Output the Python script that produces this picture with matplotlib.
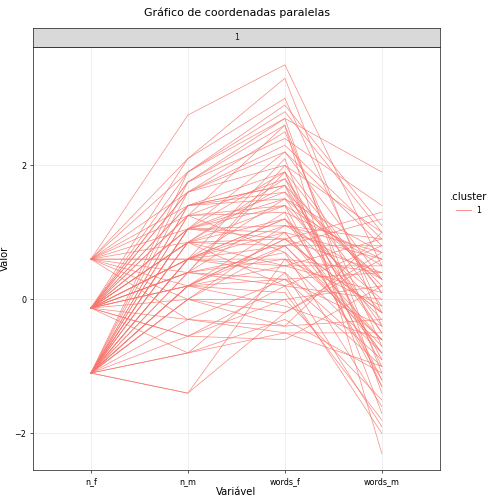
import matplotlib.pyplot as plt

variables = ["n_f", "n_m", "words_f", "words_m"]

n_f = [0.6, 0.6, 0.6, 0.6, 0.6, 0.6, 0.6, 0.6, 0.6, 0.6,
       -0.13, -0.13, -0.13, -0.13, -0.13, -0.13, -0.13, -0.13, -0.13, -0.13,
       -0.13, -0.13, -0.13, -0.13, -0.13, -0.13, -0.13, -0.13, -0.13, -0.13,
       -1.1, -1.1, -1.1, -1.1, -1.1, -1.1, -1.1, -1.1, -1.1, -1.1,
       -1.1, -1.1, -1.1, -1.1, -1.1, -1.1, -1.1, -1.1, -1.1, -1.1,
       -0.13, -0.13, -0.13, -1.1, -1.1, -1.1, 0.6, 0.6, -0.13, -1.1,
       -0.13, -0.13, -1.1, -1.1, 0.6, -0.13, -1.1, -0.13, -1.1, -0.13,
       -1.1, -1.1, -0.13, -0.13, -1.1, 0.6, -0.13, -1.1, -1.1, -0.13]
n_m = [2.75, 2.1, 1.9, 1.6, 1.4, 1.05, 0.6, 0.2, 0.0, -0.3,
       1.9, 1.75, 1.6, 1.4, 1.25, 1.05, 0.85, 0.6, 0.4, 0.2,
       0.0, -0.3, -0.55, -0.8, 2.1, 1.75, 1.25, 0.85, 0.4, -0.55,
       1.9, 1.6, 1.4, 1.25, 1.05, 0.85, 0.6, 0.4, 0.2, 0.0,
       -0.3, -0.55, -0.8, -1.4, 1.75, 1.05, 0.6, 0.2, -0.8, -1.4,
       1.4, 1.05, 0.6, 0.85, 0.4, 0.0, 0.85, 0.4, 1.6, 1.25,
       0.2, 0.6, 0.6, 0.2, 1.25, 1.05, 0.0, 0.4, 1.05, 0.85,
       0.6, 0.2, 0.4, 0.85, 1.4, 0.6, 0.2, 0.85, 1.05, 0.6]
words_f = [3.5, 3.0, 2.7, 2.2, 1.9, 1.5, 1.0, 0.5, 0.0, -0.4,
           2.8, 2.6, 2.0, 1.7, 1.3, 1.0, 0.8, 0.6, 0.3, 0.1,
           -0.2, -0.5, -0.6, -0.3, 3.3, 2.4, 1.8, 1.2, 0.7, 0.2,
           2.9, 2.5, 1.6, 1.4, 1.1, 0.9, 0.5, 0.2, -0.1, -0.4,
           0.3, 0.0, -0.5, -0.2, 2.7, 1.9, 1.2, 0.8, 0.4, 0.6,
           1.5, 0.9, 2.1, 1.7, 0.6, 1.0, 1.8, 1.3, 2.3, 0.7,
           1.1, 0.4, 1.5, 0.9, 2.6, 1.4, 0.8, 2.0, 1.6, 0.2,
           1.2, 0.9, 1.9, 0.5, 1.7, 1.1, 0.3, 1.4, 2.2, 0.8]
words_m = [0.5, -0.2, 1.9, 0.8, -1.0, 0.3, -0.6, 0.9, -1.5, -0.3,
           1.0, -2.3, 0.1, -1.2, 0.6, -0.8, 1.2, -0.1, 0.4, -1.8,
           0.7, -0.5, 0.2, -1.1, -0.4, 1.4, -0.9, 0.0, -1.6, 0.8,
           1.1, -0.7, 0.3, -1.3, 0.9, -0.2, 0.5, -2.0, -0.6, 1.0,
           -0.4, 0.2, -1.0, 0.6, -1.4, 0.1, -0.3, 0.8, -0.9, 0.4,
           -0.5, 1.3, -1.7, 0.2, -0.8, 0.6, -0.1, -1.2, 0.9, -0.6,
           0.3, -1.9, 0.7, -0.2, -1.1, 0.5, -0.7, 1.0, -0.4, 0.0,
           -0.8, 0.4, -1.3, 0.1, -0.5, 0.7, -1.0, -0.2, 0.3, -0.6]

color = "#F8766D"
fig = plt.figure(figsize=(7, 7), dpi=72)
ax = fig.add_axes([0.065, 0.067, 0.808, 0.839])
xs = [1, 2, 3, 4]
for row in zip(n_f, n_m, words_f, words_m):
    ax.plot(xs, row, color=color, lw=0.7, alpha=0.85)

ax.set_xlim(0.4, 4.6)
ax.set_ylim(-2.55, 3.76)
ax.set_xticks(xs)
ax.set_xticklabels(variables)
ax.set_yticks([-2, 0, 2])
ax.tick_params(labelsize=8, length=3, color="#333333")
ax.grid(True, color="#ebebeb", lw=0.8)
ax.set_axisbelow(True)
for s in ax.spines.values():
    s.set_color("#333333")
    s.set_linewidth(0.8)
ax.set_xlabel("Variável", fontsize=10, labelpad=1)
ax.set_ylabel("Valor", fontsize=10)

strip = fig.add_axes([0.065, 0.906, 0.808, 0.038])
strip.set_facecolor("#d9d9d9")
strip.set_xticks([]); strip.set_yticks([])
for s in strip.spines.values():
    s.set_color("#333333")
    s.set_linewidth(0.8)
strip.text(0.5, 0.5, "1", ha="center", va="center", fontsize=8, color="#1a1a1a")
fig.text(0.47, 0.975, "Gráfico de coordenadas paralelas", ha="center", va="center", fontsize=11)

fig.text(0.893, 0.61, ".cluster", fontsize=10, va="center")
fig.add_artist(plt.Line2D([0.905, 0.935], [0.583, 0.583], color=color, lw=0.8))
fig.text(0.945, 0.583, "1", fontsize=8, va="center")

fig.savefig("out.png", dpi=72)
